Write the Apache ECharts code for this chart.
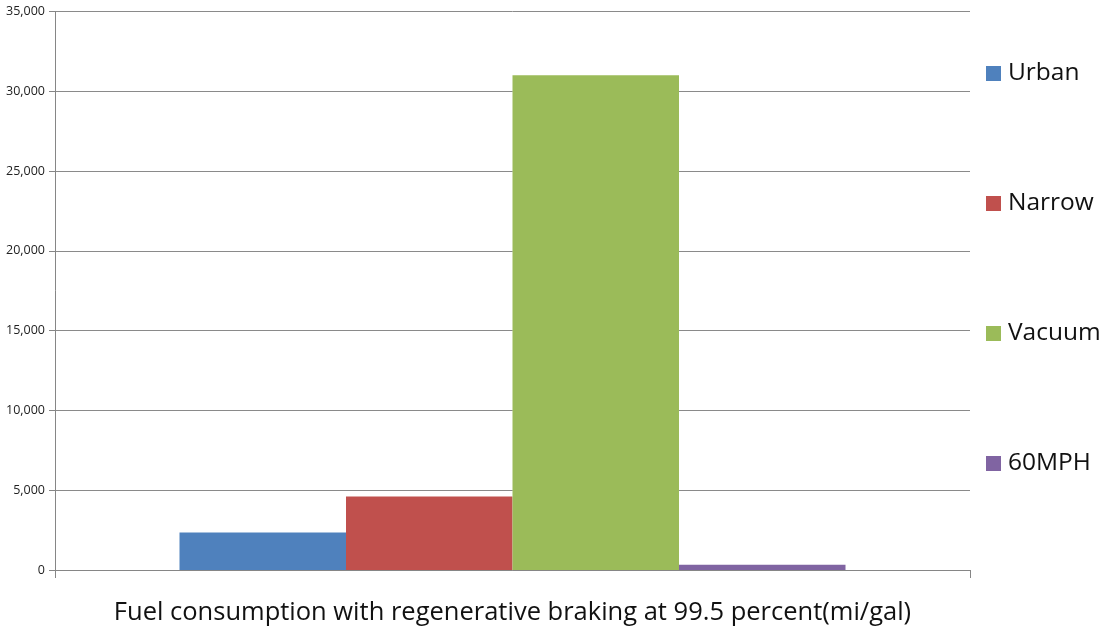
<!DOCTYPE html>
<html>
<head>
<meta charset="utf-8">
<script src="https://cdn.jsdelivr.net/npm/echarts@6/dist/echarts.min.js"></script>
<style>html,body{margin:0;padding:0;background:#fff}#c{width:1107px;height:632px}</style>
</head>
<body>
<div id="c"></div>
<script>
const categories = [''];
const seriesNames = ['Urban', 'Narrow', 'Vacuum', '60MPH'];
const urban = [2350];
const narrow = [4600];
const vacuum = [31000];
const mph60 = [330];
const colors = ['#4F81BD', '#C0504D', '#9BBB59', '#8064A2'];
const xTitle = 'Fuel consumption with regenerative braking at 99.5 percent(mi/gal)';

const values = [urban, narrow, vacuum, mph60];
const chart = echarts.init(document.getElementById('c'));
chart.setOption({
  animation: false,
  textStyle: { fontFamily: 'Open Sans' },
  grid: { left: 55, right: 137, top: 11.5, bottom: 62, outerBoundsMode: 'none', containLabel: false },
  legend: {
    orient: 'vertical',
    left: 981,
    top: 56,
    itemWidth: 15,
    itemHeight: 15,
    itemGap: 105,
    icon: 'rect',
    textStyle: { fontSize: 24.5, color: '#111', fontFamily: 'Open Sans', lineHeight: 25, padding: [0, 0, 0, 2] },
    data: seriesNames
  },
  xAxis: {
    type: 'category',
    data: categories,
    name: xTitle,
    nameLocation: 'middle',
    nameGap: 30,
    nameTextStyle: { fontSize: 25.5, color: '#111', fontFamily: 'Open Sans' },
    axisLine: { lineStyle: { color: '#868686', width: 1 } },
    axisTick: { show: true, length: 8, lineStyle: { color: '#868686' } },
    axisLabel: { show: false }
  },
  yAxis: {
    type: 'value',
    min: 0,
    max: 35000,
    interval: 5000,
    axisLine: { show: true, lineStyle: { color: '#868686' } },
    axisTick: { show: true, length: 6, lineStyle: { color: '#868686' } },
    axisLabel: {
      fontSize: 12.5, color: '#222', margin: 10,
      formatter: v => v.toLocaleString('en-US')
    },
    splitLine: { lineStyle: { color: '#8a8a8a', width: 1 } }
  },
  series: seriesNames.map((n, i) => ({
    name: n,
    type: 'bar',
    data: values[i],
    barWidth: 166.5,
    barGap: '0%',
    itemStyle: { color: colors[i] }
  }))
});
</script>
</body>
</html>
